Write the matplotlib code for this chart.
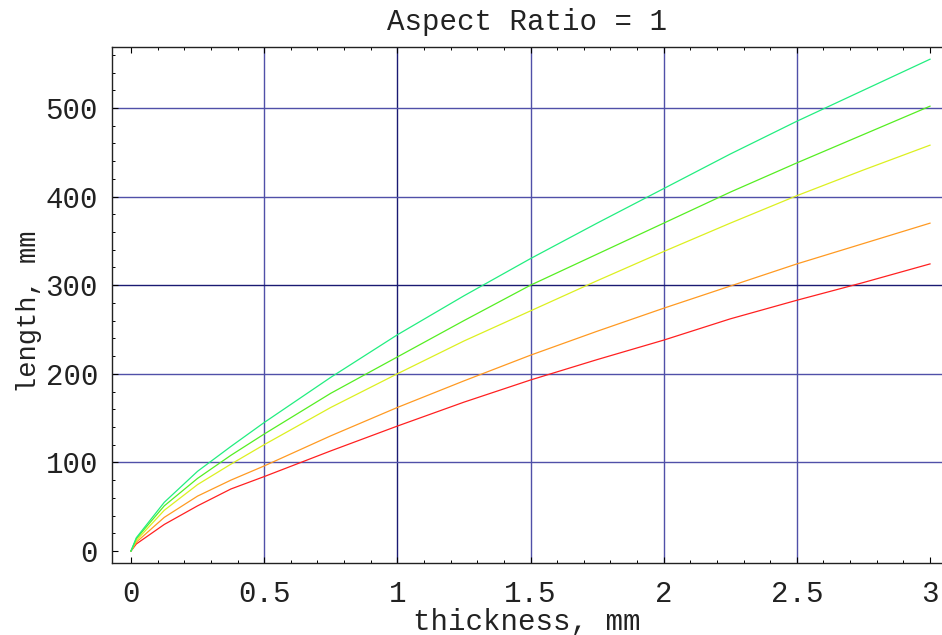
import matplotlib
matplotlib.use("Agg")
import matplotlib.pyplot as plt
from matplotlib.ticker import MultipleLocator

# thickness values (mm)
thickness = [0, 0.02, 0.125, 0.25, 0.375, 0.5, 0.75, 1.0, 1.25, 1.5,
             1.75, 2.0, 2.25, 2.5, 2.75, 3.0]

# length curves (mm), bottom to top
len_red = [0, 8, 30, 51, 70, 84, 113, 141, 168, 193, 216, 238, 262, 283, 303, 324]
len_orange = [0, 10, 38, 62, 80, 96, 130, 162, 192, 221, 248, 274, 299, 324, 347, 370]
len_yellow = [0, 12, 46, 75, 98, 120, 162, 200, 237, 271, 305, 338, 370, 401, 430, 458]
len_green = [0, 14, 51, 82, 108, 132, 178, 219, 260, 300, 335, 370, 405, 438, 470, 502]
len_spring = [0, 15, 55, 90, 118, 145, 196, 244, 288, 330, 370, 409, 448, 485, 520, 555]

curves = [len_red, len_orange, len_yellow, len_green, len_spring]
colors = ["#ff2020", "#ff9a22", "#dcf020", "#55ee22", "#22ee80"]

x_grid = [0.5, 1.0, 1.5, 2.0, 2.5]
y_grid = [100, 200, 300, 400, 500]

mono = ["Liberation Mono", "DejaVu Sans Mono"]

fig = plt.figure(figsize=(9.42, 6.35), dpi=100)
ax = fig.add_axes([0.1189, 0.1134, 0.8811, 0.8126])

# grid lines (darker at 1 and 300)
for g in x_grid:
    ax.axvline(g, color="#1a1a72" if g == 1.0 else "#5050a8", lw=1.0, zorder=1)
for g in y_grid:
    ax.axhline(g, color="#1a1a72" if g == 300 else "#5050a8", lw=1.0, zorder=1)

for ys, c in zip(curves, colors):
    ax.plot(thickness, ys, color=c, lw=0.9, zorder=3)

ax.set_xlim(-0.0713, 3.045)
ax.set_ylim(-13.5, 568.8)

ax.spines["right"].set_visible(False)
for s in ["left", "bottom", "top"]:
    ax.spines[s].set_linewidth(1.0)
    ax.spines[s].set_color("#222222")

ax.xaxis.set_major_locator(MultipleLocator(0.5))
ax.xaxis.set_minor_locator(MultipleLocator(0.1))
ax.yaxis.set_major_locator(MultipleLocator(100))
ax.yaxis.set_minor_locator(MultipleLocator(20))
ax.xaxis.set_major_formatter(plt.FuncFormatter(lambda v, p: f"{v:g}"))

ax.tick_params(axis="both", which="major", direction="in", length=4.5, width=0.8,
               top=True, right=False, labelsize=21, pad=12)
ax.tick_params(axis="both", which="minor", direction="in", length=2.5, width=0.7,
               top=True, right=False)
ax.tick_params(axis="y", which="major", pad=10)
for lab in ax.get_xticklabels() + ax.get_yticklabels():
    lab.set_family(mono)
    lab.set_color("#222222")

ax.set_title("Aspect Ratio = 1", family=mono, fontsize=21, pad=12, color="#222222")
ax.set_xlabel("thickness, mm", family=mono, fontsize=21, labelpad=0, color="#222222")
ax.set_ylabel("length, mm", family=mono, fontsize=19.5, color="#222222")
ax.yaxis.set_label_coords(-0.084, 0.486)

fig.savefig("out.png", dpi=100)
